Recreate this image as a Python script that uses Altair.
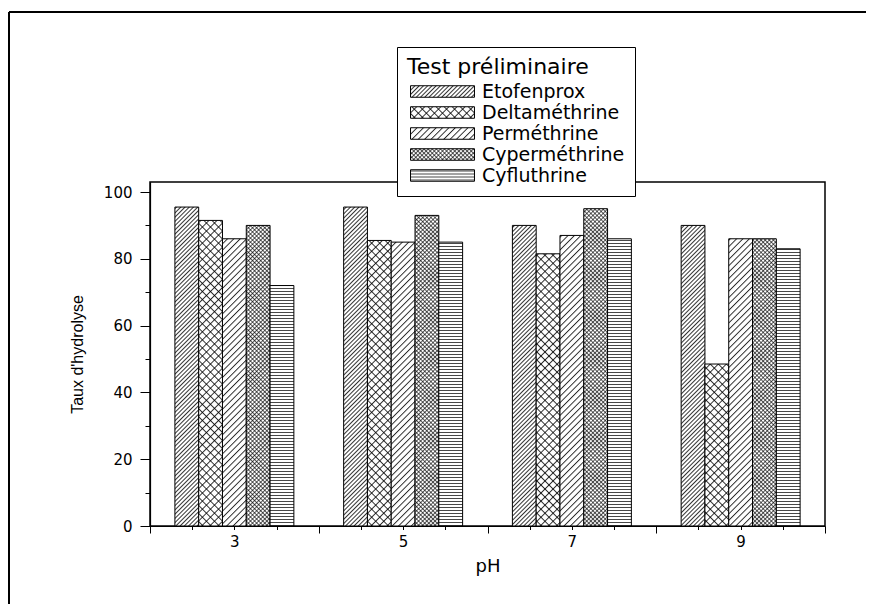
import altair as alt
import pandas as pd
import jinja2

# ---------------- data ----------------
ph = [3, 5, 7, 9]
series = ["Etofenprox", "Deltaméthrine", "Perméthrine", "Cyperméthrine", "Cyfluthrine"]
etofenprox = [95.5, 95.5, 90.0, 90.0]
deltamethrine = [91.5, 85.5, 81.5, 48.5]
permethrine = [86.0, 85.0, 87.0, 86.0]
cypermethrine = [90.0, 93.0, 95.0, 86.0]
cyfluthrine = [72.0, 85.0, 86.0, 83.0]
x_tick_values = [2, 2.5, 3, 3.5, 4, 4.5, 5, 5.5, 6, 6.5, 7, 7.5, 8, 8.5, 9, 9.5, 10]
y_tick_values = [0, 10, 20, 30, 40, 50, 60, 70, 80, 90, 100]

values = [etofenprox, deltamethrine, permethrine, cypermethrine, cyfluthrine]
rows = []
for i, name in enumerate(series):
    for j, p in enumerate(ph):
        rows.append({"pH": p, "series": name, "idx": i, "value": values[i][j]})
df = pd.DataFrame(rows)

patterns = ["url(#pEto)", "url(#pDelta)", "url(#pPerm)", "url(#pCyper)", "url(#pCyflu)"]

FONT = "DejaVu Sans"
FONT_NARROW = "Liberation Sans"
BAR_W = 0.282

bars = (
    alt.Chart(df)
    .transform_calculate(
        x0=f"datum.pH - {2.5 * BAR_W} + datum.idx * {BAR_W}",
        x1=f"datum.pH - {2.5 * BAR_W} + (datum.idx + 1) * {BAR_W}",
    )
    .mark_bar(stroke="black", strokeWidth=1, opacity=1)
    .encode(
        x=alt.X(
            "x0:Q",
            scale=alt.Scale(domain=[2, 10], nice=False, zero=False),
            axis=alt.Axis(
                values=x_tick_values,
                labelExpr="datum.value % 2 == 1 ? format(datum.value, 'd') : ''",
                tickSize={"condition": {"test": "datum.value % 2 == 0", "value": 7}, "value": 3.5},
                labelPadding=5,
                labelFontSize=15,
                labelFont=FONT,
                titleFontSize=18,
                titleFont=FONT,
                titlePadding=8,
                grid=False,
                labelFlush=False,
            ),
            title="pH",
        ),
        x2="x1:Q",
        y=alt.Y(
            "value:Q",
            scale=alt.Scale(domain=[0, 103], nice=False),
            axis=alt.Axis(
                values=y_tick_values,
                labelExpr="datum.value % 20 == 0 ? format(datum.value, 'd') : ''",
                tickSize={"condition": {"test": "datum.value % 20 == 0", "value": 10}, "value": 5},
                labelPadding=8,
                labelFontSize=15,
                labelFont=FONT,
                titleFontSize=16,
                titleFont=FONT_NARROW,
                titlePadding=18,
                grid=False,
                labelFlush=False,
            ),
            title="Taux d'hydrolyse",
        ),
        y2=alt.datum(0),
        fill=alt.Fill(
            "series:N",
            scale=alt.Scale(domain=series, range=patterns),
            legend=alt.Legend(
                title="Test préliminaire",
                orient="none",
                legendX=247,
                legendY=-135,
                symbolType="M-5.33,-0.96L5.33,-0.96L5.33,0.96L-5.33,0.96Z",
                symbolSize=144,
                symbolOffset=26,
                symbolStrokeColor="black",
                symbolStrokeWidth=1,
                symbolOpacity=1,
                labelFontSize=19,
                labelFont=FONT,
                labelOffset=30,
                labelLimit=400,
                titleFontSize=22,
                titleFont=FONT,
                titleFontWeight="normal",
                titleLimit=400,
                titlePadding=3,
                rowPadding=1,
                padding=10,
                strokeColor="black",
                fillColor="white",
                cornerRadius=0,
                labelColor="black",
                titleColor="black",
            ),
        ),
    )
)

frame_src = pd.DataFrame({"k": [0]})
top_border = alt.Chart(frame_src).mark_rule(color="black", strokeWidth=2).encode(
    x=alt.value(-141), x2=alt.value(716), y=alt.value(-170)
)
left_border = alt.Chart(frame_src).mark_rule(color="black", strokeWidth=2).encode(
    x=alt.value(-141), y=alt.value(-170), y2=alt.value(422)
)

chart = (
    alt.layer(top_border, left_border, bars)
    .properties(
        width=675,
        height=344,
        autosize=alt.AutoSizeParams(type="none"),
        padding={"left": 142, "top": 174, "right": 42, "bottom": 78},
        background="white",
    )
    .configure(font=FONT)
    .configure_view(stroke="black", strokeWidth=1.5)
    .configure_axis(
        domainColor="black",
        domainWidth=1.2,
        tickColor="black",
        tickWidth=1,
        labelColor="black",
        titleColor="black",
        titleFontWeight="normal",
    )
)

TEMPLATE = jinja2.Template("""<!DOCTYPE html>
<html>
<head>
<meta charset="utf-8">
<script type="text/javascript" src="{{ base_url }}/vega@{{ vega_version }}"></script>
<script type="text/javascript" src="{{ base_url }}/vega-lite@{{ vegalite_version }}"></script>
<script type="text/javascript" src="{{ base_url }}/vega-embed@{{ vegaembed_version }}"></script>
</head>
<body>
<svg width="0" height="0" style="position:absolute" aria-hidden="true">
  <defs>
    <pattern id="pEto" patternUnits="userSpaceOnUse" width="3" height="3" patternTransform="rotate(45)">
      <rect width="3" height="3" fill="#ffffff"/>
      <line x1="0.5" y1="0" x2="0.5" y2="3" stroke="#000000" stroke-width="0.8"/>
    </pattern>
    <pattern id="pPerm" patternUnits="userSpaceOnUse" width="4.5" height="4.5" patternTransform="rotate(45)">
      <rect width="4.5" height="4.5" fill="#ffffff"/>
      <line x1="0.5" y1="0" x2="0.5" y2="4.5" stroke="#000000" stroke-width="0.8"/>
    </pattern>
    <pattern id="pDelta" patternUnits="userSpaceOnUse" width="5.7" height="5.7" patternTransform="rotate(45)">
      <rect width="5.7" height="5.7" fill="#ffffff"/>
      <line x1="0.5" y1="0" x2="0.5" y2="5.7" stroke="#000000" stroke-width="0.8"/>
      <line x1="0" y1="0.5" x2="5.7" y2="0.5" stroke="#000000" stroke-width="0.8"/>
    </pattern>
    <pattern id="pCyper" patternUnits="userSpaceOnUse" width="2.9" height="2.9" patternTransform="rotate(45)">
      <rect width="2.9" height="2.9" fill="#ffffff"/>
      <line x1="0.4" y1="0" x2="0.4" y2="2.9" stroke="#000000" stroke-width="0.7"/>
      <line x1="0" y1="0.4" x2="2.9" y2="0.4" stroke="#000000" stroke-width="0.7"/>
    </pattern>
    <pattern id="pCyflu" patternUnits="userSpaceOnUse" width="6" height="3">
      <rect width="6" height="3" fill="#ffffff"/>
      <line x1="0" y1="1.5" x2="6" y2="1.5" stroke="#333333" stroke-width="0.9"/>
    </pattern>
  </defs>
</svg>
<div id="{{ output_div }}"></div>
<script type="text/javascript">
  vegaEmbed("#{{ output_div }}", {{ spec }}, {{ embed_options }}).catch(console.error);
</script>
</body>
</html>
""")

chart.save("out.html", embed_options={"renderer": "svg", "actions": False}, template=TEMPLATE)
